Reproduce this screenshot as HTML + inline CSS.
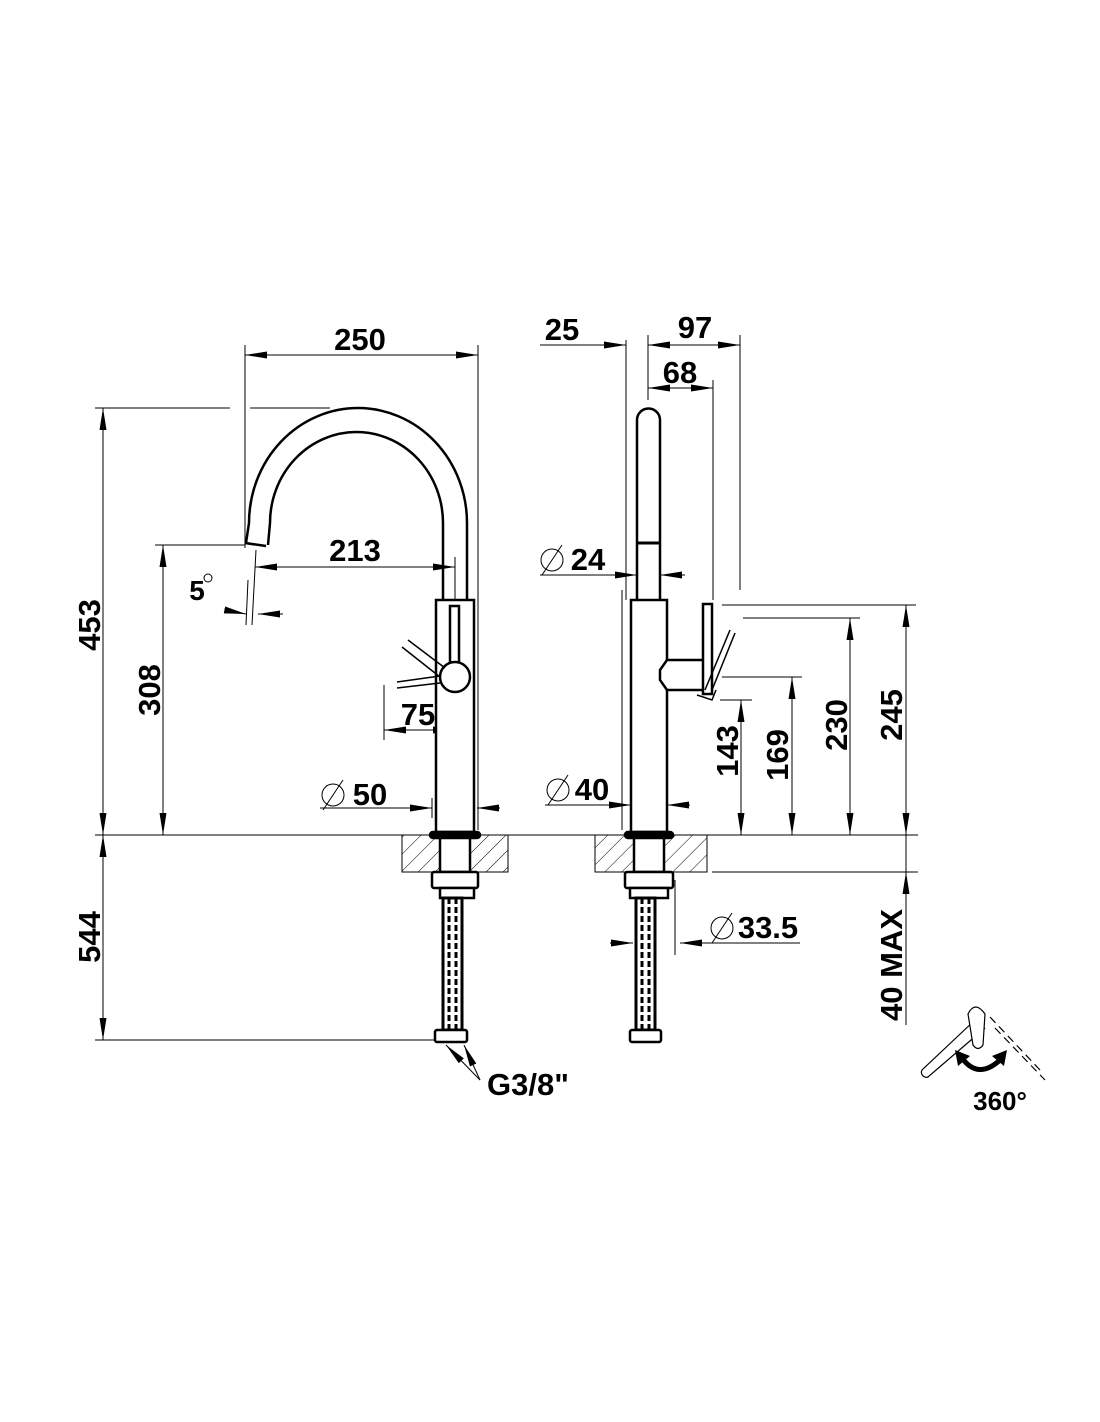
<!DOCTYPE html>
<html><head><style>body{margin:0;background:#fff}svg{display:block}text{font-family:"Liberation Sans",Arial,sans-serif;font-weight:bold;fill:#000}</style></head><body>
<svg width="1100" height="1422" viewBox="0 0 1100 1422" xmlns="http://www.w3.org/2000/svg">
<defs>
<pattern id="h" width="12" height="12" patternUnits="userSpaceOnUse" patternTransform="rotate(45)"><line x1="0" y1="0" x2="0" y2="12" stroke="#000" stroke-width="1"/></pattern>
<marker id="a" viewBox="0 0 20 6" refX="20" refY="3" markerWidth="22" markerHeight="7" markerUnits="userSpaceOnUse" preserveAspectRatio="none" orient="auto-start-reverse"><path d="M0,0L20,3L0,6z" fill="#000"/></marker>
</defs>
<g stroke="#000" stroke-width="1" fill="none">
<line x1="95" y1="835" x2="918" y2="835"/>
<line x1="712" y1="872" x2="918" y2="872"/>
<line x1="95" y1="408" x2="230" y2="408"/>
<line x1="250" y1="408" x2="330" y2="408"/>
<line x1="103" y1="408" x2="103" y2="835" marker-start="url(#a)" marker-end="url(#a)"/>
<line x1="155" y1="545" x2="245" y2="545"/>
<line x1="163" y1="545" x2="163" y2="835" marker-start="url(#a)" marker-end="url(#a)"/>
<line x1="95" y1="1040" x2="440" y2="1040"/>
<line x1="103" y1="835" x2="103" y2="1040" marker-start="url(#a)" marker-end="url(#a)"/>
<line x1="245" y1="345" x2="245" y2="548"/>
<line x1="478" y1="345" x2="478" y2="830"/>
<line x1="245" y1="355" x2="478" y2="355" marker-start="url(#a)" marker-end="url(#a)"/>
<line x1="255" y1="567" x2="455" y2="567" marker-start="url(#a)" marker-end="url(#a)"/>
<line x1="455" y1="557" x2="455" y2="740"/>
<line x1="256" y1="550" x2="252" y2="625"/>
<line x1="248" y1="580" x2="246" y2="625"/>
<line x1="225" y1="610" x2="246" y2="614" marker-end="url(#a)"/>
<line x1="283" y1="614" x2="258" y2="614" marker-end="url(#a)"/>
<line x1="384" y1="685" x2="384" y2="740"/>
<line x1="384" y1="730" x2="455" y2="730" marker-start="url(#a)" marker-end="url(#a)"/>
<line x1="320" y1="808" x2="432" y2="808" marker-end="url(#a)"/>
<line x1="500" y1="808" x2="477" y2="808" marker-end="url(#a)"/>
<line x1="432" y1="798" x2="432" y2="818"/>
<line x1="480" y1="1080" x2="446" y2="1045" marker-end="url(#a)"/>
<line x1="480" y1="1080" x2="464" y2="1045" marker-end="url(#a)"/>
<line x1="626" y1="340" x2="626" y2="600"/>
<line x1="648" y1="335" x2="648" y2="400"/>
<line x1="713" y1="380" x2="713" y2="600"/>
<line x1="740" y1="335" x2="740" y2="590"/>
<line x1="540" y1="345" x2="626" y2="345" marker-end="url(#a)"/>
<line x1="648" y1="345" x2="740" y2="345" marker-start="url(#a)" marker-end="url(#a)"/>
<line x1="648" y1="388" x2="713" y2="388" marker-start="url(#a)" marker-end="url(#a)"/>
<line x1="540" y1="575" x2="637" y2="575" marker-end="url(#a)"/>
<line x1="685" y1="575" x2="660" y2="575" marker-end="url(#a)"/>
<line x1="545" y1="805" x2="631" y2="805" marker-end="url(#a)"/>
<line x1="690" y1="805" x2="667" y2="805" marker-end="url(#a)"/>
<line x1="622" y1="590" x2="622" y2="830"/>
<line x1="610" y1="943" x2="633" y2="943" marker-end="url(#a)"/>
<line x1="800" y1="943" x2="680" y2="943" marker-end="url(#a)"/>
<line x1="675" y1="880" x2="675" y2="955"/>
<line x1="720" y1="700" x2="752" y2="700"/>
<line x1="741" y1="700" x2="741" y2="835" marker-start="url(#a)" marker-end="url(#a)"/>
<line x1="722" y1="677" x2="802" y2="677"/>
<line x1="792" y1="677" x2="792" y2="835" marker-start="url(#a)" marker-end="url(#a)"/>
<line x1="743" y1="618" x2="860" y2="618"/>
<line x1="850" y1="618" x2="850" y2="835" marker-start="url(#a)" marker-end="url(#a)"/>
<line x1="722" y1="605" x2="916" y2="605"/>
<line x1="906" y1="605" x2="906" y2="835" marker-start="url(#a)" marker-end="url(#a)"/>
<line x1="906" y1="1025" x2="906" y2="872" marker-end="url(#a)"/>
<line x1="906" y1="835" x2="906" y2="872"/>
<circle cx="333" cy="795" r="11"/><line x1="323" y1="810" x2="343" y2="780"/>
<circle cx="552" cy="560" r="11"/><line x1="542" y1="575" x2="562" y2="545"/>
<circle cx="558" cy="790" r="11"/><line x1="548" y1="805" x2="568" y2="775"/>
<circle cx="722" cy="928" r="11"/><line x1="712" y1="943" x2="732" y2="913"/>
</g>
<rect x="402" y="835" width="106" height="37" fill="url(#h)" stroke="#000"/>
<rect x="595" y="835" width="112" height="37" fill="url(#h)" stroke="#000"/>
<g stroke="#000" stroke-width="2.5" fill="none">
<path d="M246,543 L249,523 A109,115 0 0 1 467,523 L467,600"/>
<path d="M268,545 L270,523 A86.5,91 0 0 1 443,523 L443,600"/>
<line x1="245" y1="543" x2="266" y2="546"/>
<rect x="436" y="600" width="38" height="232" fill="#fff"/>
<rect x="450" y="606" width="9" height="58"/>
<circle cx="455" cy="677" r="15" fill="#fff"/>
<g stroke-width="1.5"><line x1="408" y1="640" x2="445" y2="668"/><line x1="402" y1="647" x2="440" y2="677"/><line x1="397" y1="682" x2="440" y2="676"/><line x1="397" y1="688" x2="440" y2="683"/></g>
<rect x="430" y="832" width="50" height="6" rx="3" fill="#000"/>
<rect x="440" y="838" width="30" height="34" fill="#fff"/>
<rect x="432" y="872" width="46" height="16" rx="2" fill="#fff"/>
<rect x="440" y="888" width="34" height="10" fill="#fff"/>
<rect x="443" y="898" width="19" height="132" stroke-width="3"/>
<line x1="449" y1="898" x2="449" y2="1030" stroke-width="3" stroke-dasharray="6,3"/><line x1="456" y1="898" x2="456" y2="1030" stroke-width="3" stroke-dasharray="6,3"/>
<rect x="435" y="1030" width="32" height="12" rx="2" fill="#fff"/>
<path d="M637,600 L637,420 A11.5,11.5 0 0 1 660,420 L660,600"/>
<line x1="637" y1="543" x2="660" y2="543" stroke-width="3"/>
<rect x="631" y="600" width="36" height="232" fill="#fff"/>
<path d="M667,660 L705,660 L705,690 L667,690 L660,680 L660,670 Z" fill="#fff"/>
<rect x="703" y="604" width="9" height="90" fill="#fff"/>
<g stroke-width="1.5"><line x1="705" y1="690" x2="730" y2="630"/><line x1="712" y1="690" x2="735" y2="633"/><path d="M697,695 L712,700 L716,690"/></g>
<rect x="625" y="832" width="48" height="6" rx="3" fill="#000"/>
<rect x="634" y="838" width="30" height="34" fill="#fff"/>
<rect x="625" y="872" width="48" height="16" rx="2" fill="#fff"/>
<rect x="630" y="888" width="38" height="10" fill="#fff"/>
<rect x="636" y="898" width="19" height="132" stroke-width="3"/>
<line x1="642" y1="898" x2="642" y2="1030" stroke-width="3" stroke-dasharray="6,3"/><line x1="649" y1="898" x2="649" y2="1030" stroke-width="3" stroke-dasharray="6,3"/>
<rect x="630" y="1030" width="31" height="12" rx="2" fill="#fff"/>
</g>
<g stroke="#000" stroke-width="1.2" fill="none">
<path d="M975,1020 L922,1070 A5,5 0 0 0 928,1077 L985,1028"/>
<path d="M968,1014 Q975,1000 985,1014 L983,1045 Q978,1052 973,1045 Z" fill="#fff"/>
<line x1="990" y1="1017" x2="1040" y2="1070" stroke-dasharray="8,5"/>
<line x1="995" y1="1028" x2="1045" y2="1080" stroke-dasharray="8,5"/>
<path d="M962,1058 Q978,1080 1000,1060" stroke-width="5"/>
</g>
<path d="M955,1050 L970,1056 L958,1066 Z M1007,1050 L992,1056 L1004,1066 Z" fill="#000"/>
<g font-size="31">
<text x="360" y="350" text-anchor="middle">250</text>
<text x="355" y="561" text-anchor="middle">213</text>
<text x="418" y="725" text-anchor="middle">75</text>
<text x="370" y="805" text-anchor="middle">50</text>
<text x="197" y="600" text-anchor="middle" font-size="28">5</text>
<text x="528" y="1095" text-anchor="middle">G3/8"</text>
<text x="562" y="340" text-anchor="middle">25</text>
<text x="695" y="338" text-anchor="middle">97</text>
<text x="680" y="383" text-anchor="middle">68</text>
<text x="588" y="570" text-anchor="middle">24</text>
<text x="592" y="800" text-anchor="middle">40</text>
<text x="768" y="938" text-anchor="middle">33.5</text>
<text x="1000" y="1110" text-anchor="middle" font-size="26">360°</text>
<text transform="translate(100,625) rotate(-90)" text-anchor="middle">453</text>
<text transform="translate(160,690) rotate(-90)" text-anchor="middle">308</text>
<text transform="translate(100,937) rotate(-90)" text-anchor="middle">544</text>
<text transform="translate(738,751) rotate(-90)" text-anchor="middle">143</text>
<text transform="translate(788,755) rotate(-90)" text-anchor="middle">169</text>
<text transform="translate(847,725) rotate(-90)" text-anchor="middle">230</text>
<text transform="translate(902,715) rotate(-90)" text-anchor="middle">245</text>
<text transform="translate(902,965) rotate(-90)" text-anchor="middle">40 MAX</text>
</g>
<circle cx="208" cy="578" r="4" fill="none" stroke="#000" stroke-width="1"/>
</svg>
</body></html>
